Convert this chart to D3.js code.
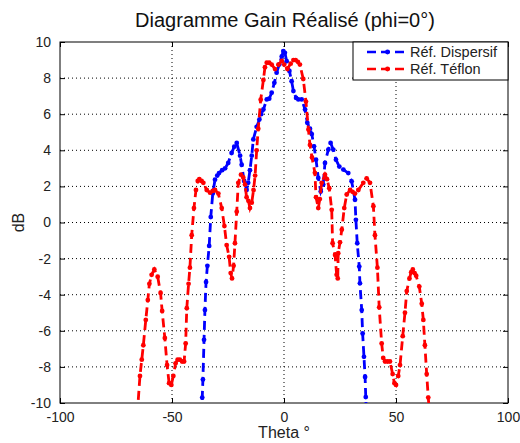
<!DOCTYPE html>
<html><head><meta charset="utf-8">
<script src="https://cdn.jsdelivr.net/npm/d3@7"></script>
<style>body{margin:0;background:#fff}svg{display:block}text{font-family:"Liberation Sans",Arial,sans-serif}</style>
</head><body><svg id="c" width="520" height="443"></svg>
<script>
const title = "Diagramme Gain Réalisé (phi=0°)";
const xLabel = "Theta °";
const yLabel = "dB";
const seriesNames = ["Réf. Dispersif", "Réf. Téflon"];
const xTicks = [-100, -50, 0, 50, 100];
const yTicks = [-10, -8, -6, -4, -2, 0, 2, 4, 6, 8, 10];

const dispTheta = [-36.8,-36.5,-36.2,-35.7,-35.3,-34.8,-34.2,-33.4,-32.7,-31.8,-30.8,-29.8,-29,-27.6,-26.3,-24.9,-23.4,-22.2,-21.1,-19.6,-18.9,-17.8,-16.7,-16,-15.2,-14.4,-13.7,-12.2,-11,-10.2,-9.2,-7.7,-6.6,-5.5,-4.3,-3.3,-2.1,-1,-0.3,0.4,1.2,2.4,3.4,4.2,5.4,6.4,7.9,9.4,10.4,11.6,12.4,13.4,14.3,15.3,16.4,17.5,18.3,19.8,20.8,22,23.2,24.7,26.5,28.7,30.2,31.7,32.1,32.7,33.6,33.9,34.7,35.1,35.7,36.2,36.5,36.8];
const dispGain = [-10.6,-9.7,-8.7,-6.5,-4.85,-3.3,-2.4,-1.3,0.3,1.6,2.37,2.6,2.74,2.9,3.0,3.3,3.85,4.2,4.41,3.7,3.2,2.3,1.8,2.2,2.9,3.7,4.6,5.3,5.7,6.0,6.26,6.82,6.86,7.19,7.74,8.3,8.76,9.2,9.5,9.4,8.94,8.4,7.83,7.28,6.9,6.82,6.82,6.26,5.52,5.2,4.9,4.22,3.48,2.47,1.72,2.1,3.3,4.04,4.41,4.04,3.48,3.1,2.93,2.74,2.28,1.26,0.15,-1.15,-2.44,-3.37,-4.85,-6.15,-7.44,-8.56,-9.67,-10.6];

const teflTheta = [-65.5,-64.3,-63.5,-62.8,-61.7,-60.8,-60.1,-59.1,-57.9,-56.4,-55.1,-54.4,-53.2,-52.2,-51.3,-50.3,-49.4,-48.4,-47.5,-46.5,-45.5,-44.6,-43.9,-43.4,-42.6,-42,-41.2,-40.2,-39.3,-38.5,-37.8,-36.8,-36,-34.5,-33,-31.8,-30.8,-29.3,-27.8,-26.6,-25.6,-24.5,-23.8,-23.2,-22.5,-21.9,-21.1,-20.4,-19.2,-18.2,-17.4,-16.7,-15.9,-15.2,-14.4,-13.6,-12.9,-12.2,-11.5,-10.4,-9.2,-8.5,-7.7,-6.6,-5.5,-4,-2.5,-1,0.1,1.5,3,4.2,5.2,6.2,7.1,8.6,9.8,10.9,11.6,12.5,13.8,14.3,15.3,16,16.8,18.3,19.2,20.2,21.3,21.7,22.8,23.5,24,24.2,25,25.8,26.9,28,29.5,30.6,31.7,33.2,35.4,36.9,38.4,39.9,40.6,41.7,42.5,43.6,44.3,45.1,46.2,47.3,48.5,49.3,50,51,51.8,53,54,54.8,56,56.8,57.5,58.3,59,60.4,61.5,62.2,62.9,63.7,64.4,65];
const teflGain = [-10.6,-8.5,-7.6,-6.8,-5.4,-4.3,-3.4,-2.9,-2.6,-3.0,-3.9,-4.9,-6.4,-7.9,-8.9,-9.0,-8.5,-7.8,-7.6,-7.6,-7.7,-7.7,-6.7,-4.75,-3.4,-2.5,-0.7,0.8,1.8,2.3,2.4,2.3,2.2,1.8,1.65,1.75,1.8,1.6,0.8,-0.2,-1.25,-1.9,-2.8,-3.1,-2.4,-1.15,0.6,2.2,2.65,2.5,2.1,1.4,1.2,0.8,1.1,1.8,2.6,4.0,5.2,6.8,7.9,8.6,8.85,8.85,8.75,8.5,8.75,8.95,8.75,8.5,8.8,9.0,9.0,8.9,8.75,7.95,6.7,5.15,4.3,3.6,2.75,1.4,0.8,1.3,2.2,2.65,2.4,1.9,0.7,-1.15,-1.8,-2.9,-3.1,-1.7,-1.1,-0.4,0.8,1.55,1.8,1.7,1.6,1.8,2.2,2.45,2.2,0.9,-0.7,-2.5,-4.7,-6.7,-7.5,-7.7,-7.7,-7.7,-8.4,-8.9,-9.0,-8.5,-7.9,-6.3,-5.0,-3.8,-3.1,-2.75,-2.6,-2.8,-2.95,-3.55,-4.5,-5.4,-6.8,-8.4,-9.7,-10.6];

const colors = ["#0000ff", "#ff0000"];
const series = [
  {name: seriesNames[0], color: colors[0], pts: dispTheta.map((t,i)=>[t, dispGain[i]])},
  {name: seriesNames[1], color: colors[1], pts: teflTheta.map((t,i)=>[t, teflGain[i]])}
];

const svg = d3.select("#c");
const m = {l: 60, r: 12, t: 42, b: 40};
const W = 520, H = 443;
const x = d3.scaleLinear().domain([-100, 100]).range([m.l, W - m.r]);
const y = d3.scaleLinear().domain([-10, 10]).range([H - m.b, m.t]);
const fmt = d => String(d);

svg.append("defs").append("clipPath").attr("id","clip").append("rect")
  .attr("x", m.l).attr("y", m.t).attr("width", x(100)-x(-100)).attr("height", y(-10)-y(10));

// grid
const grid = svg.append("g");
xTicks.slice(1,-1).forEach(v => grid.append("line").attr("x1", x(v)).attr("x2", x(v)).attr("y1", y(-10)).attr("y2", y(10))
  .attr("stroke", "#000").attr("stroke-width", 1).attr("stroke-dasharray", "1,3"));
yTicks.slice(1,-1).forEach(v => grid.append("line").attr("x1", x(-100)).attr("x2", x(100)).attr("y1", y(v)).attr("y2", y(v))
  .attr("stroke", "#000").attr("stroke-width", 1).attr("stroke-dasharray", "1,3"));

// axes
const xa = svg.append("g").attr("transform", `translate(0,${y(-10)})`)
  .call(d3.axisBottom(x).tickValues(xTicks).tickFormat(fmt).tickSizeInner(-5).tickSizeOuter(0).tickPadding(9));
const xa2 = svg.append("g").attr("transform", `translate(0,${y(10)})`)
  .call(d3.axisTop(x).tickValues(xTicks).tickSizeInner(-5).tickSizeOuter(0).tickFormat(""));
const ya = svg.append("g").attr("transform", `translate(${x(-100)},0)`)
  .call(d3.axisLeft(y).tickValues(yTicks).tickFormat(fmt).tickSizeInner(-5).tickSizeOuter(0).tickPadding(9));
const ya2 = svg.append("g").attr("transform", `translate(${x(100)},0)`)
  .call(d3.axisRight(y).tickValues(yTicks).tickSizeInner(-5).tickSizeOuter(0).tickFormat(""));
[xa, xa2, ya, ya2].forEach(g => {
  g.attr("font-size", 14);
  g.select(".domain").remove();
  g.selectAll("line").attr("stroke", "#000");
  g.selectAll("text").attr("font-size", 14).attr("fill", "#222").style("font-family", '"Liberation Sans",Arial,sans-serif');
});
svg.append("rect").attr("x", x(-100)).attr("y", y(10)).attr("width", x(100)-x(-100)).attr("height", y(-10)-y(10))
  .attr("fill", "none").attr("stroke", "#000").attr("stroke-width", 1);

// series
const line = d3.line().x(d => x(d[0])).y(d => y(d[1]));
const plot = svg.append("g").attr("clip-path", "url(#clip)");
series.forEach(s => {
  plot.append("path").datum(s.pts).attr("d", line).attr("fill", "none")
    .attr("stroke", s.color).attr("stroke-width", 2.8).attr("stroke-dasharray", "9,5");
  plot.selectAll(null).data(s.pts).enter().append("circle")
    .attr("cx", d => x(d[0])).attr("cy", d => y(d[1])).attr("r", 2.4).attr("fill", s.color);
});

// legend
const lg = svg.append("g");
lg.append("rect").attr("x", 353).attr("y", y(10)).attr("width", x(100) - 353).attr("height", 38)
  .attr("fill", "#fff").attr("stroke", "#000").attr("stroke-width", 1);
series.forEach((s, i) => {
  const yy = y(10) + 10 + i * 17;
  lg.append("line").attr("x1", 367).attr("x2", 408).attr("y1", yy).attr("y2", yy)
    .attr("stroke", s.color).attr("stroke-width", 2.6).attr("stroke-dasharray", "9,5");
  lg.append("circle").attr("cx", 387.5).attr("cy", yy).attr("r", 2.4).attr("fill", s.color);
  lg.append("text").attr("x", 410).attr("y", yy + 5).attr("font-size", 14.5).attr("fill", "#222").text(s.name);
});

// labels
svg.append("text").attr("x", (x(-100)+x(100))/2 + 1).attr("y", 27).attr("text-anchor", "middle")
  .attr("font-size", 20).attr("fill", "#111").text(title);
svg.append("text").attr("x", (x(-100)+x(100))/2).attr("y", 438).attr("text-anchor", "middle")
  .attr("font-size", 16).attr("fill", "#222").text(xLabel);
svg.append("text").attr("transform", `translate(24,${(y(-10)+y(10))/2}) rotate(-90)`).attr("text-anchor", "middle")
  .attr("font-size", 16).attr("fill", "#222").text(yLabel);
</script></body></html>
